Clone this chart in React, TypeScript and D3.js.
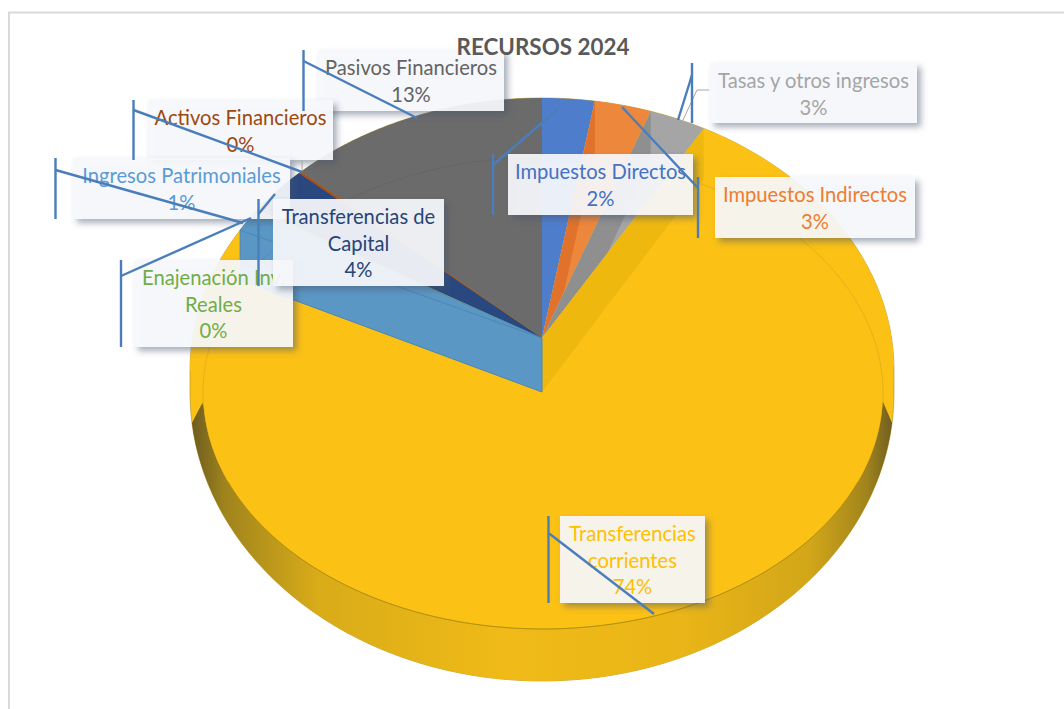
import React from "react";
import * as d3 from "d3";

const title = "RECURSOS 2024";
const categories = [
  "Impuestos Directos",
  "Impuestos Indirectos",
  "Tasas y otros ingresos",
  "Transferencias corrientes",
  "Ingresos Patrimoniales",
  "Enajenación Inv. Reales",
  "Transferencias de Capital",
  "Activos Financieros",
  "Pasivos Financieros",
];
// shares as drawn in the picture, and the percentages its labels print
const shares = [2.4, 2.6, 2.6, 76, 1.3, 0.15, 2.83, 0.12, 12];
const printed = ["2%", "3%", "3%", "74%", "1%", "0%", "4%", "0%", "13%"];
const sliceColors = ["#4e7ecb", "#ed873c", "#a5a5a5", "#fcc115", "#5b97c5", "#6fa84a", "#29487f", "#a5501e", "#6b6b6b"];
const wallColors = ["#4e7ecb", "#e0722c", "#8f8f8f", "#efb80f", "#5b97c5", "#6fa84a", "#29487f", "#a5501e", "#6b6b6b"];
const textColors = ["#4472c4", "#ed7d31", "#a5a5a5", "#ffc000", "#5b9bd5", "#70ad47", "#264478", "#9e480e", "#636363"];

// label boxes: x, y, w, h, wrapped lines, then bar x and the end of the leader
const labelLayout: any[] = [
  { i: 8, x: 318, y: 50, w: 186, h: 61, lines: ["Pasivos Financieros"], bar: 303.5, ly: 61, ex: 417, ey: 118 },
  { i: 7, x: 148, y: 100, w: 185, h: 60, lines: ["Activos Financieros"], bar: 133.5, ly: 110, ex: 302, ey: 172 },
  { i: 4, x: 73, y: 158, w: 217, h: 61, lines: ["Ingresos Patrimoniales"], bar: 55.5, ly: 170, ex: 243, ey: 223 },
  { i: 5, x: 134, y: 260, w: 159, h: 87, lines: ["Enajenación Inv.", "Reales"], bar: 121, ly: 276, ex: 251, ey: 218 },
  { i: 6, x: 273, y: 199, w: 171, h: 87, lines: ["Transferencias de", "Capital"], bar: 258.5, ly: 214, ex: 275, ey: 194 },
  { i: 0, x: 508, y: 154, w: 185, h: 61, lines: ["Impuestos Directos"], bar: 493, ly: 165, ex: 558, ey: 109 },
  { i: 1, x: 715, y: 177, w: 200, h: 61, lines: ["Impuestos Indirectos"], bar: 698, ly: 188, ex: 622, ey: 107 },
  { i: 2, x: 710, y: 63, w: 207, h: 60, lines: ["Tasas y otros ingresos"], bar: 692, ly: 75, ex: 678, ey: 120 },
  { i: 3, x: 560, y: 516, w: 145, h: 87, lines: ["Transferencias", "corrientes"], bar: 548.5, ly: 533, ex: 654, ey: 614 },
];

const width = 1064;
const height = 709;
const font = "Lato, Carlito, 'Open Sans', sans-serif";
const cx = 542;
const apexY = 338;
const depth = 54;
const rx = 352;
const backCy = 370;
const backRy = 272;
const frontCx = 543;
const frontRx = 340;
const midCy = 393;
const frontRy = 236;
const skirtRy = 288;

const line = d3.line();
const TAU = Math.PI * 2;

const rim = (a: number): [number, number] => {
  const c = Math.cos(a);
  const s = Math.sin(a);
  if (c >= 0) return [cx + rx * s, backCy - backRy * c];
  return [frontCx + frontRx * s, midCy - frontRy * c];
};
const samples = (a0: number, a1: number, n = 80) => d3.range(n + 1).map((k) => a0 + ((a1 - a0) * k) / n);
const rad = (deg: number) => (deg * Math.PI) / 180;

const App = () => {
  const arcs = d3.pie<number>().sort(null).value((d) => d)(shares);

  const wedge = (a: any) =>
    line([[cx, apexY], ...samples(a.startAngle, a.endAngle).map(rim), [cx, apexY]] as any) + "Z";
  const wall = (angle: number, drop = depth - 4) => {
    const [x, y] = rim(angle);
    return line([[cx, apexY], [x, y], [x, y + drop], [cx, apexY + depth]] as any) + "Z";
  };

  const upper = samples(rad(-90), rad(90)).map((a) => [cx + rx * Math.sin(a), backCy - backRy * Math.cos(a)]);
  const lower = samples(rad(90), rad(270)).map((a) => [cx + rx * Math.sin(a), midCy - skirtRy * Math.cos(a)]);
  const silhouette = line([...upper, ...lower] as any) + "Z";

  const skirtOut = samples(rad(96), rad(264)).map((a) => [cx + rx * Math.sin(a), midCy - skirtRy * Math.cos(a)]);
  const skirtIn = samples(rad(268), rad(92)).map((a) => [frontCx + frontRx * Math.sin(a), midCy - frontRy * Math.cos(a)]);
  const skirt = line([...skirtOut, ...skirtIn] as any) + "Z";

  const faintRing = line(
    samples(0, TAU, 200).map((a) => [frontCx + frontRx * Math.sin(a), midCy - frontRy * Math.cos(a)]) as any
  ) + "Z";
  const frontEdge = line(
    samples(rad(112), rad(248)).map((a) => [frontCx + frontRx * Math.sin(a), midCy - frontRy * Math.cos(a)]) as any
  );

  const yellow = arcs[3];
  const cutWall = wall(yellow.endAngle);

  return (
    <svg
      width={width}
      height={height}
      viewBox={`0 0 ${width} ${height}`}
      style={{ position: "absolute", left: 0, top: 0, display: "block", background: "#fff" }}
      fontFamily={font}
    >
      <defs>
        <linearGradient id="skirt" gradientUnits="userSpaceOnUse" x1={190} x2={895} y1={0} y2={0}>
          <stop offset="0" stopColor="#6a5a20" />
          <stop offset="0.05" stopColor="#a0841c" />
          <stop offset="0.18" stopColor="#d8ab18" />
          <stop offset="0.45" stopColor="#f0bb17" />
          <stop offset="0.7" stopColor="#e9b517" />
          <stop offset="0.88" stopColor="#d2a619" />
          <stop offset="0.96" stopColor="#a0841c" />
          <stop offset="1" stopColor="#6a5a20" />
        </linearGradient>
        {/* shadow only outside the box, so the translucent fill stays clean */}
        <filter id="shadow" x="-20%" y="-20%" width="140%" height="140%">
          <feGaussianBlur in="SourceAlpha" stdDeviation="3" result="blur" />
          <feOffset in="blur" dx="4" dy="4" result="moved" />
          <feFlood floodColor="#44546a" floodOpacity="0.5" />
          <feComposite in2="moved" operator="in" result="tint" />
          <feComposite in="tint" in2="SourceAlpha" operator="out" result="outside" />
          <feMerge>
            <feMergeNode in="outside" />
            <feMergeNode in="SourceGraphic" />
          </feMerge>
        </filter>
        {arcs.map((a, i) => (
          <clipPath key={i} id={`slice-${i}`}>
            <path d={wedge(a)} />
          </clipPath>
        ))}
      </defs>

      <rect x={9} y={12.5} width={1080} height={720} fill="#fff" stroke="#d9d9d9" strokeWidth={2} />

      <path d={silhouette} fill={sliceColors[3]} stroke="#a98c24" strokeWidth={0.6} />
      <path d={skirt} fill="url(#skirt)" />

      {arcs.map((a, i) => (
        <g key={i}>
          <path d={wedge(a)} fill={sliceColors[i]} />
          {i > 0 && i < 4 && <path d={wall(a.startAngle)} fill={wallColors[i]} clipPath={`url(#slice-${i})`} />}
        </g>
      ))}
      <path d={cutWall} fill={sliceColors[4]} stroke="#4a86b5" strokeWidth={1} />
      <path d={wedge(arcs[6])} fill={sliceColors[6]} />
      <path d={wedge(arcs[7])} fill={sliceColors[7]} />
      <path d={wedge(arcs[4])} fill={sliceColors[4]} stroke="#4a86b5" strokeWidth={0.6} />

      <path d={faintRing} fill="none" stroke="#3a3a3a" strokeOpacity={0.12} strokeWidth={1} />
      <path d={frontEdge ?? ""} fill="none" stroke="#b3900f" strokeWidth={1} />

      {labelLayout.map((l) => (
        <g key={l.i}>
          <rect x={l.x} y={l.y} width={l.w} height={l.h} fill="#f6f8fb" fillOpacity={0.93} filter="url(#shadow)" />
          <text textAnchor="middle" fontSize={20.2} fill={textColors[l.i]}>
            {[...l.lines, printed[l.i]].map((t: string, k: number) => (
              <tspan key={k} x={l.x + l.w / 2} y={l.y + 25 + k * 26.5}>
                {t}
              </tspan>
            ))}
          </text>
        </g>
      ))}

      <text x={543} y={55} textAnchor="middle" fontSize={22.4} fontWeight={700} fill="#595959">
        {title}
      </text>

      {/* thin grey leaders the chart drew itself */}
      <path d="M709,90H697L683,120" fill="none" stroke="#a6a6a6" strokeWidth={1} />
      <path d="M302,160V171" fill="none" stroke="#a6a6a6" strokeWidth={1} />

      {labelLayout.map((l) => (
        <g key={l.i} stroke="#4a7ebb" strokeWidth={2.4} fill="none">
          <path d={line([[l.bar, l.y], [l.bar, l.y + l.h]]) ?? ""} />
          <path d={line([[l.bar, l.ly], [l.ex, l.ey]]) ?? ""} />
        </g>
      ))}
    </svg>
  );
};

export default App;
